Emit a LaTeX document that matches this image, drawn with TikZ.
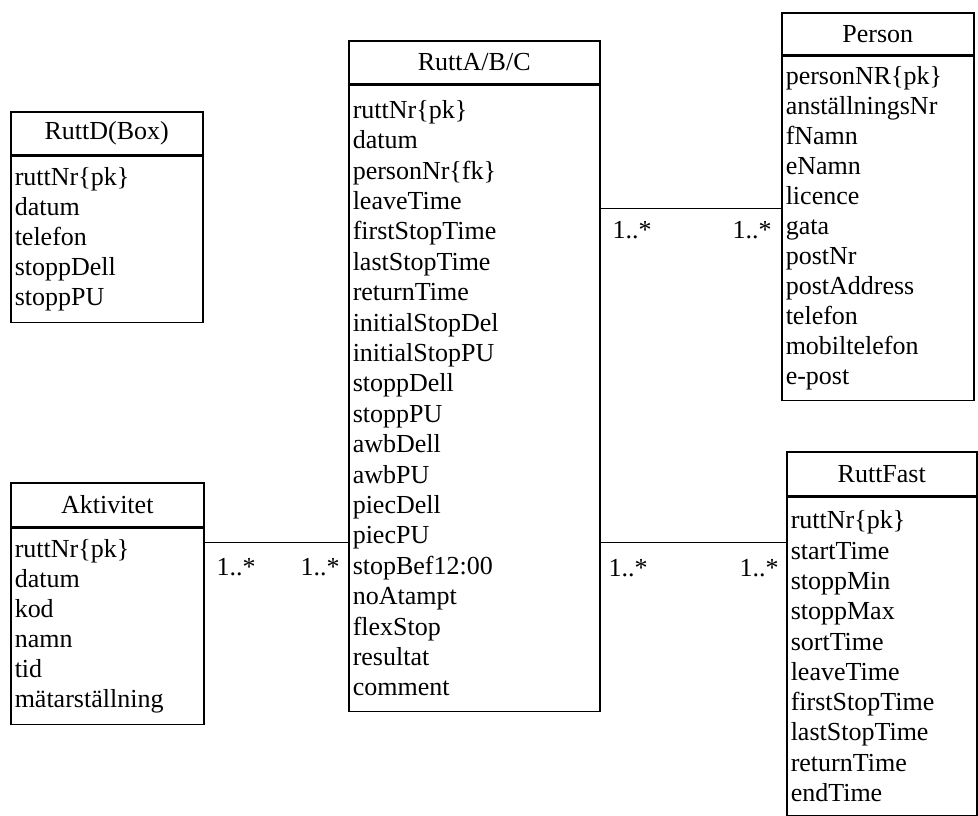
\documentclass[tikz,border=0pt]{standalone}
\usepackage{fontspec}
\setmainfont{Liberation Serif}
\usetikzlibrary{positioning}

\begin{document}
\begin{tikzpicture}[x=1pt, y=-1pt,
  classhead/.style={draw, line width=1.5pt, anchor=north west, inner sep=0pt, font=\fontsize{26}{30}\selectfont},
  classbody/.style={draw, line width=1.5pt, inner xsep=4pt, inner ysep=0pt, align=left, font=\fontsize{26}{30}\selectfont},
  mult/.style={inner sep=0pt, font=\fontsize{26}{30}\selectfont}]
\useasboundingbox (0,0) rectangle (978,815);

% RuttD(Box)
\node[classhead, minimum width=192pt, minimum height=43pt] (ruttd) at (10,111) {RuttD(Box)};
\node[classbody, text width=184pt, minimum height=166pt, below=0pt of ruttd] (ruttdattr)
  {ruttNr\{pk\}\\datum\\telefon\\stoppDell\\stoppPU};

% RuttA/B/C
\node[classhead, minimum width=251pt, minimum height=43pt] (rutta) at (348,40) {RuttA/B/C};
\node[classbody, font=\fontsize{26}{30.4}\selectfont, text width=243pt, minimum height=626pt, below=0pt of rutta] (ruttaattr)
  {ruttNr\{pk\}\\datum\\personNr\{fk\}\\leaveTime\\firstStopTime\\lastStopTime\\returnTime\\initialStopDel\\initialStopPU\\stoppDell\\stoppPU\\awbDell\\awbPU\\piecDell\\piecPU\\stopBef12:00\\noAtampt\\flexStop\\resultat\\comment};

% Person
\node[classhead, minimum width=192pt, minimum height=42pt] (person) at (781,12) {Person};
\node[classbody, text width=184pt, minimum height=344pt, below=0pt of person] (personattr)
  {personNR\{pk\}\\anställningsNr\\fNamn\\eNamn\\licence\\gata\\postNr\\postAddress\\telefon\\mobiltelefon\\e-post};

% Aktivitet
\node[classhead, minimum width=193pt, minimum height=44pt] (akt) at (10,482) {Aktivitet};
\node[classbody, text width=185pt, minimum height=196pt, below=0pt of akt] (aktattr)
  {ruttNr\{pk\}\\datum\\kod\\namn\\tid\\mätarställning};

% RuttFast
\node[classhead, minimum width=190pt, minimum height=44pt] (fast) at (786,451) {RuttFast};
\node[classbody, font=\fontsize{26}{30.3}\selectfont, text width=182pt, minimum height=318pt, below=0pt of fast] (fastattr)
  {ruttNr\{pk\}\\startTime\\stoppMin\\stoppMax\\sortTime\\leaveTime\\firstStopTime\\lastStopTime\\returnTime\\endTime};

% Associations
\draw[line width=1.5pt] ([yshift=-124pt]ruttaattr.north east) coordinate (c1) -- (c1 -| personattr.west);
\draw[line width=1.5pt] ([yshift=-15pt]aktattr.north east) coordinate (c2) -- (c2 -| ruttaattr.west);
\draw[line width=1.5pt] ([yshift=-458pt]ruttaattr.north east) coordinate (c3) -- (c3 -| fastattr.west);

% Multiplicities
\node[mult] (m1) at (632,230) {1..*};
\node[mult] (m2) at (752,230) {1..*};
\node[mult] (m3) at (236,567) {1..*};
\node[mult] (m4) at (320,567) {1..*};
\node[mult] (m5) at (628,568) {1..*};
\node[mult] (m6) at (759,568) {1..*};

\end{tikzpicture}
\end{document}
